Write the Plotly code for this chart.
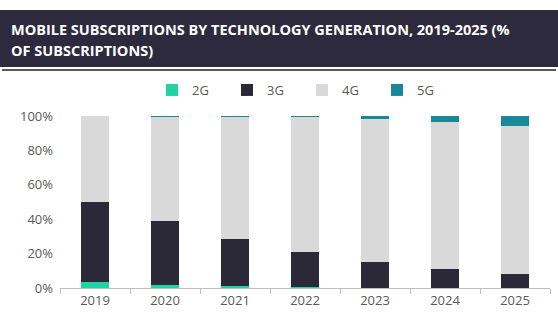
import plotly.graph_objects as go

years = ["2019", "2020", "2021", "2022", "2023", "2024", "2025"]
g2 = [3.5, 1.9, 1.2, 0.6, 0.1, 0.0, 0.0]
g3 = [46.7, 36.9, 27.3, 20.3, 15.0, 11.0, 7.9]
g5 = [0.0, 0.1, 0.3, 0.5, 1.5, 3.5, 5.6]
g4 = [round(100 - a - b - c, 1) for a, b, c in zip(g2, g3, g5)]

title_lines = ["MOBILE SUBSCRIPTIONS BY TECHNOLOGY GENERATION, 2019-2025 (%", "OF SUBSCRIPTIONS)"]

series = [("2G", g2, "#1fd3a2"), ("3G", g3, "#2b2838"), ("4G", g4, "#d9d9d9"), ("5G", g5, "#17899a")]

fig = go.Figure()
for name, vals, col in series:
    fig.add_trace(go.Bar(x=years, y=vals, name=name, marker=dict(color=col, line=dict(width=0))))

# pixel -> paper helpers
L, R, T, B = 60, 550, 116, 288
def px(x):
    return (x - L) / (R - L)
def py(y):
    return (B - y) / (B - T)

annotations = []
for i, line in enumerate(title_lines):
    annotations.append(dict(text="<b>" + line + "</b>", xref="paper", yref="paper",
                            x=px(9), y=py(29 + 21 * i), xanchor="left", yanchor="middle",
                            align="left", showarrow=False,
                            font=dict(family="Open Sans", size=14.5, color="white")))

fig.update_layout(
    width=558, height=331,
    margin=dict(l=L, r=558 - R, t=T, b=331 - B),
    barmode="stack", bargap=0.6,
    plot_bgcolor="white", paper_bgcolor="white",
    font=dict(family="Open Sans", color="#595959", size=13),
    showlegend=True,
    legend=dict(orientation="h", x=px(152), xanchor="left", y=py(90), yanchor="middle",
                entrywidth=30, entrywidthmode="pixels", itemwidth=30,
                font=dict(size=13, color="#595959"), traceorder="normal"),
    xaxis=dict(showline=True, linecolor="#bfbfbf", linewidth=1, ticks="outside",
               tickson="boundaries", tickcolor="#bfbfbf", ticklen=5, showgrid=False,
               tickfont=dict(size=13, color="#595959")),
    yaxis=dict(range=[0, 100], tickvals=[0, 20, 40, 60, 80, 100],
               ticktext=["0%", "20%", "40%", "60%", "80%", "100%"], showgrid=False,
               showline=False, zeroline=False, ticks="", ticklabelstandoff=6,
               tickfont=dict(size=13, color="#595959")),
    shapes=[
        dict(type="rect", xref="paper", yref="paper", x0=px(0), x1=px(558), y0=py(67), y1=py(10),
             fillcolor="#2d2a3e", line=dict(width=0), layer="below"),
        dict(type="line", xref="paper", yref="paper", x0=px(2), x1=px(556), y0=py(70), y1=py(70),
             line=dict(color="#222222", width=1.5)),
    ],
    annotations=annotations,
)

fig.write_html("out.html")
